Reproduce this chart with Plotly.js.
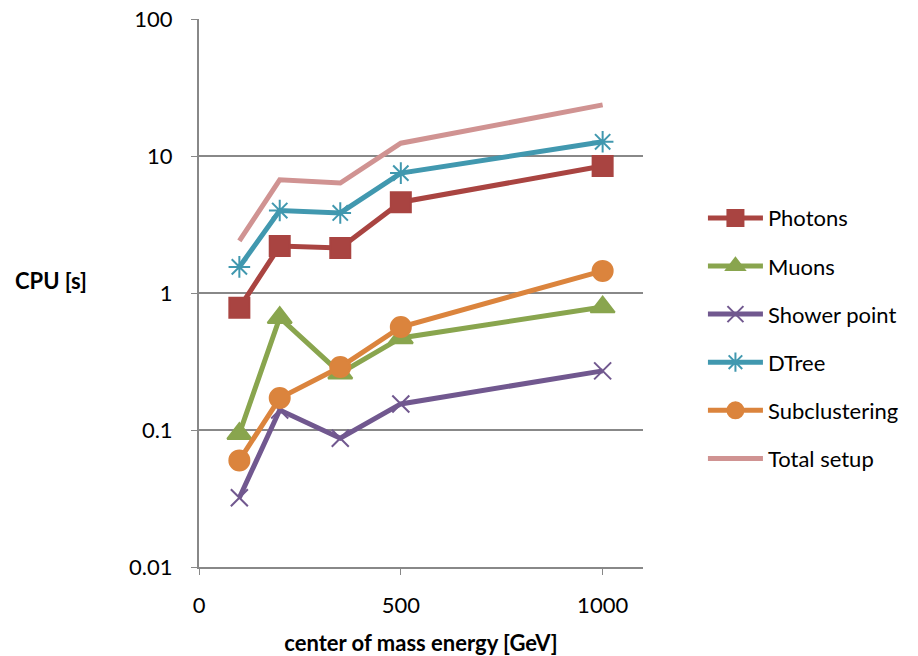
<!DOCTYPE html>
<html>
<head>
<meta charset="utf-8">
<script src="https://cdn.plot.ly/plotly-3.0.1.min.js"></script>
<style>body{margin:0;padding:0;background:#fff}#chart{width:918px;height:656px}</style>
</head>
<body>
<div id="chart"></div>
<script>
const energies = [100, 200, 350, 500, 1000];
const photons = [0.78, 2.2, 2.13, 4.6, 8.45];
const muons = [0.094, 0.66, 0.26, 0.47, 0.79];
const showerPoint = [0.032, 0.14, 0.087, 0.155, 0.27];
const dtree = [1.55, 4.0, 3.84, 7.5, 12.7];
const subclustering = [0.060, 0.171, 0.288, 0.565, 1.45];
const totalSetup = [2.4, 6.7, 6.35, 12.4, 23.6];
const yTickVals = [0.01, 0.1, 1, 10, 100];
const yTickText = ['0.01', '0.1', '1', '10', '100'];
const xTickVals = [0, 500, 1000];

const font = 'Lato, "Open Sans", sans-serif';
function tr(name, y, color, symbol, size, group, extra) {
  return Object.assign({
    x: energies, y: y, name: name, type: 'scatter', mode: 'lines+markers',
    legendgroup: group,
    line: {color: color, width: 5},
    marker: {symbol: symbol, size: size, color: color, line: {color: color, width: 2}}
  }, extra || {});
}
const data = [
  tr('Photons', photons, '#A94441', 'square', 20, 'a'),
  tr('Muons', muons, '#89A54E', 'triangle-up', 21, 'b'),
  tr('Shower point', showerPoint, '#71588F', 'x-thin-open', 17, 'c'),
  tr('DTree', dtree, '#4198AF', 'asterisk-open', 18, 'd'),
  tr('Subclustering', subclustering, '#DB843D', 'circle', 20, 'e'),
  {x: energies, y: totalSetup, name: 'Total setup', type: 'scatter', mode: 'lines',
   legendgroup: 'f', line: {color: '#D09392', width: 5}}
];
const layout = {
  width: 918, height: 656,
  margin: {l: 199, r: 275, t: 19, b: 89},
  paper_bgcolor: '#fff', plot_bgcolor: '#fff',
  font: {family: font, size: 22, color: '#000'},
  showlegend: true,
  legend: {x: 1.135, y: 0.675, xanchor: 'left', yanchor: 'top', tracegroupgap: 16.5,
           font: {size: 22, family: font}, itemwidth: 55},
  xaxis: {range: [0, 1100], tickvals: xTickVals, ticks: 'outside', ticklen: 6,
          tickcolor: '#888', showline: true, linecolor: '#888', linewidth: 2,
          showgrid: false, zeroline: false, tickfont: {size: 22}, ticklabelstandoff: 12,
          title: {text: '<b>center of mass energy [GeV]</b>', font: {size: 22}, standoff: 23}},
  yaxis: {type: 'log', range: [-2, 2], tickvals: yTickVals, ticktext: yTickText,
          ticks: 'outside', ticklen: 6, tickcolor: '#888', showline: true,
          linecolor: '#888', linewidth: 2, showgrid: true, gridcolor: '#888',
          gridwidth: 1.5, zeroline: false, tickfont: {size: 22}, ticklabelstandoff: 14},
  annotations: [{text: '<b>CPU [s]</b>', xref: 'paper', yref: 'paper', x: -0.333, y: 0.522,
                 xanchor: 'center', yanchor: 'middle', showarrow: false, font: {size: 22}}]
};
Plotly.newPlot('chart', data, layout, {displayModeBar: false, staticPlot: true});
</script>
</body>
</html>
